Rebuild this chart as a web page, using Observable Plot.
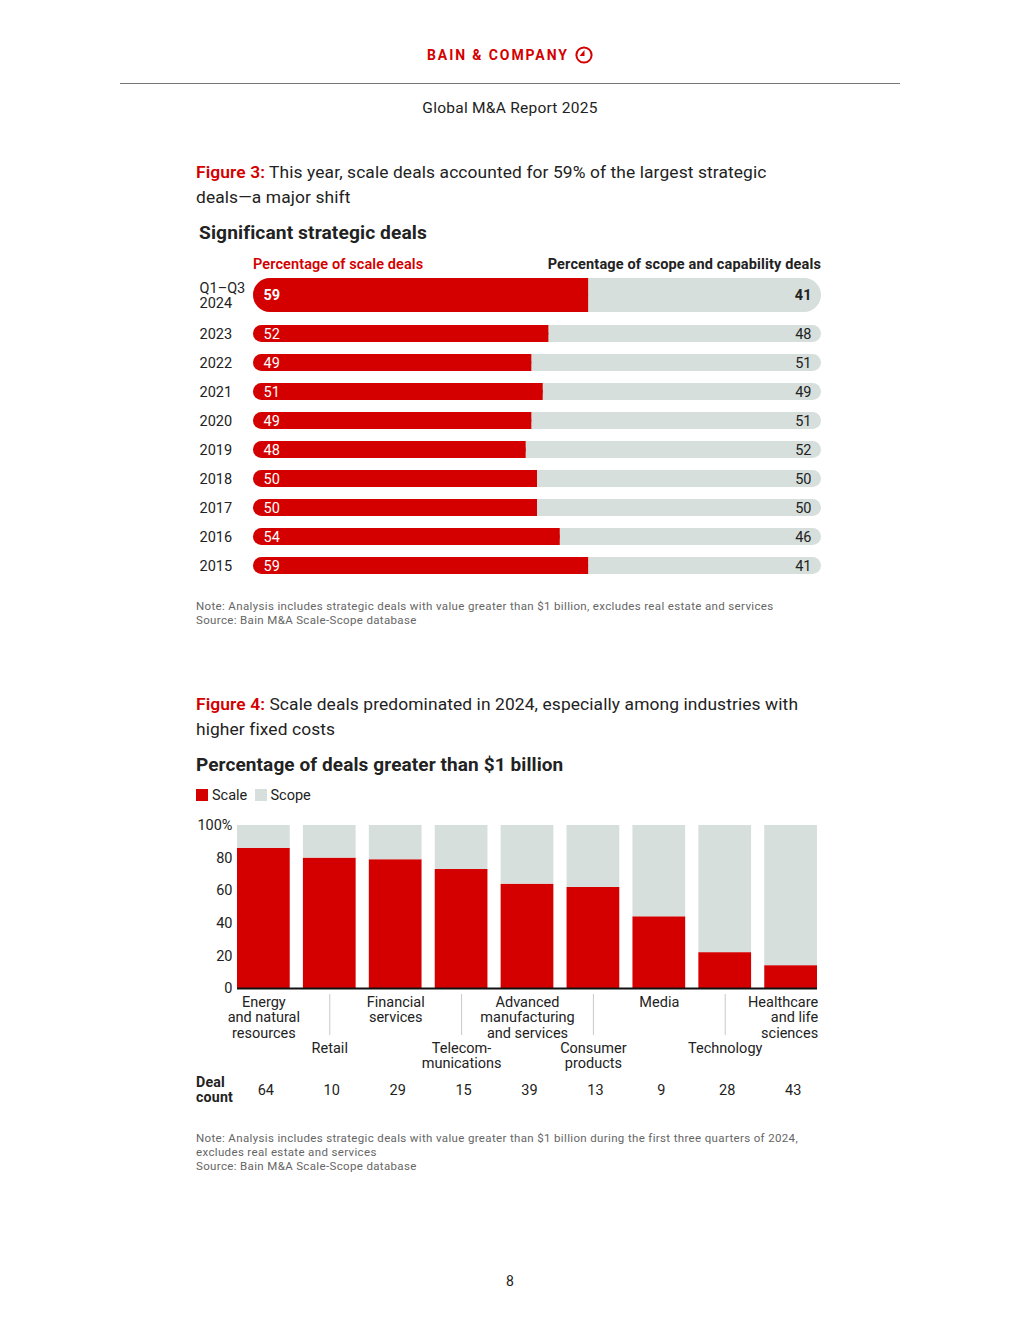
<!DOCTYPE html>
<html><head><meta charset="utf-8">
<script src="https://cdn.jsdelivr.net/npm/d3@7"></script>
<script src="https://cdn.jsdelivr.net/npm/@observablehq/plot@0.6"></script>
<style>
body{margin:0;background:#fff;font-family:Roboto,"Noto Sans",sans-serif;color:#222;}
#page{position:relative;width:1020px;height:1320px;overflow:hidden;}
.abs{position:absolute;white-space:nowrap;}
.red{color:#d40000;}
.note{font-size:11.5px;line-height:14px;color:#666;letter-spacing:0.35px;}
.title{font-size:17.4px;line-height:25px;letter-spacing:0.1px;}
.sub{font-size:19px;line-height:24px;font-weight:700;letter-spacing:0.1px;}
.sw{display:inline-block;width:12px;height:12px;vertical-align:-1px;margin-right:4px;}
</style></head><body><div id="page">
<div class="abs" style="left:427px;top:46px;font-size:14px;line-height:18px;font-weight:700;letter-spacing:1.9px;color:#d40000;">BAIN &amp; COMPANY</div>
<svg class="abs" style="left:575px;top:46px" width="18" height="18" viewBox="0 0 18 18"><circle cx="9" cy="9" r="7.6" fill="none" stroke="#d40000" stroke-width="2"/><path d="M9.5 4 L9.5 10 L4.5 10 Z" fill="#d40000"/></svg>
<div class="abs" style="left:120px;top:83px;width:780px;border-top:1.5px solid #777;"></div>
<div class="abs" style="left:0;width:1020px;text-align:center;top:98px;font-size:15.5px;line-height:20px;letter-spacing:0.25px;">Global M&amp;A Report 2025</div>

<div class="abs title" style="left:196px;top:159.5px;"><b class="red" style="font-weight:600">Figure 3:</b> This year, scale deals accounted for 59% of the largest strategic<br>deals—a major shift</div>
<div class="abs sub" style="left:199px;top:221px;font-size:19.2px;">Significant strategic deals</div>
<div class="abs red" style="left:253px;top:256px;font-size:14.5px;line-height:18px;font-weight:600;letter-spacing:0.1px;">Percentage of scale deals</div>
<div class="abs" style="right:199px;top:256px;font-size:14.5px;line-height:18px;font-weight:700;letter-spacing:0.15px;">Percentage of scope and capability deals</div>
<div id="c1" class="abs" style="left:0;top:276px;"></div>
<div id="c2" class="abs" style="left:0;top:318.5px;"></div>
<div class="abs note" style="left:196px;top:599px;">Note: Analysis includes strategic deals with value greater than $1 billion, excludes real estate and services<br>Source: Bain M&amp;A Scale-Scope database</div>

<div class="abs title" style="left:196px;top:691.5px;"><b class="red" style="font-weight:600">Figure 4:</b> Scale deals predominated in 2024, especially among industries with<br>higher fixed costs</div>
<div class="abs sub" style="left:196px;top:753px;">Percentage of deals greater than $1 billion</div>
<div class="abs" style="left:196px;top:787px;font-size:14.5px;line-height:18px;"><span class="sw" style="background:#d40000"></span>Scale&nbsp;&nbsp;<span class="sw" style="background:#d6dfdc"></span>Scope</div>
<div id="c3" class="abs" style="left:0;top:800px;"></div>
<div class="abs" style="left:196px;top:1074.5px;font-size:14.2px;line-height:15px;font-weight:700;letter-spacing:0.2px;">Deal</div>
<div class="abs" style="left:196px;top:1089.5px;font-size:14.2px;line-height:15px;font-weight:700;letter-spacing:0.2px;">count</div>
<div class="abs note" style="left:196px;top:1131px;">Note: Analysis includes strategic deals with value greater than $1 billion during the first three quarters of 2024,<br>excludes real estate and services<br>Source: Bain M&amp;A Scale-Scope database</div>
<div class="abs" style="left:0;width:1020px;text-align:center;top:1272px;font-size:14px;line-height:18px;">8</div>
</div>
<script>
// ---- Figure 3 data ----
const years = ["Q1–Q3 2024","2023","2022","2021","2020","2019","2018","2017","2016","2015"];
const scaleShare = [59,52,49,51,49,48,50,50,54,59];
const scopeShare = [41,48,51,49,51,52,50,50,46,41];
// ---- Figure 4 data ----
const industries = ["Energy and natural resources","Retail","Financial services","Telecommunications","Advanced manufacturing and services","Consumer products","Media","Technology","Healthcare and life sciences"];
const industryLabels = ["Energy\nand natural\nresources","Retail","Financial\nservices","Telecom-\nmunications","Advanced\nmanufacturing\nand services","Consumer\nproducts","Media","Technology","Healthcare\nand life\nsciences"];
const scalePct = [86,80,79,73,64,62,44,22,14];
const scopePct = [14,20,21,27,36,38,56,78,86];
const dealCount = [64,10,29,15,39,13,9,28,43];
const yTicks = [0,20,40,60,80,100];

const RED = "#d40000", GRAY = "#d6dfdc", INK = "#222";
const FONT = "Roboto, 'Noto Sans', sans-serif";

const rows = years.map((y,i)=>({year:y, scale:scaleShare[i], scope:scopeShare[i]}));
const topRow = rows.slice(0,1), restRows = rows.slice(1);

function rowMarks(data, opts){
  const {inset, r, bold} = opts;
  return [
    Plot.barX(data, {x1:0, x2:d=>d.scale+d.scope, y:"year", fill:GRAY, rx:r, insetTop:inset, insetBottom:inset}),
    Plot.barX(data, {x1:0, x2:"scale", y:"year", fill:RED, rx:r, insetTop:inset, insetBottom:inset}),
    Plot.barX(data, {x1:d=>d.scale/2, x2:"scale", y:"year", fill:RED, insetTop:inset, insetBottom:inset}),
    Plot.text(data, {x:0, y:"year", text:d=>String(d.scale), dx:10, textAnchor:"start", fill:"white", fontWeight:bold?"bold":"normal", fontSize:14.5}),
    Plot.text(data, {x:100, y:"year", text:d=>String(d.scope), dx:-10, textAnchor:"end", fill:INK, fontWeight:bold?"bold":"normal", fontSize:14.5}),
    Plot.text(data, {frameAnchor:"left", y:"year", text:d=>d.year.replace(" ","\n"), dx:-54, textAnchor:"start", lineHeight:1.05, fill:INK, fontSize:14.5})
  ];
}

const c1 = Plot.plot({
  width:1020, height:38, marginLeft:253, marginRight:199, marginTop:0, marginBottom:0,
  x:{domain:[0,100], axis:null},
  y:{domain:topRow.map(d=>d.year), axis:null, padding:0},
  style:{fontFamily:FONT, fontSize:"14px", overflow:"visible", background:"transparent"},
  marks: rowMarks(topRow, {inset:2, r:17, bold:true})
});
document.getElementById("c1").appendChild(c1);

const c2 = Plot.plot({
  width:1020, height:261, marginLeft:253, marginRight:199, marginTop:0, marginBottom:0,
  x:{domain:[0,100], axis:null},
  y:{domain:restRows.map(d=>d.year), axis:null, padding:0},
  style:{fontFamily:FONT, fontSize:"14px", overflow:"visible", background:"transparent"},
  marks: rowMarks(restRows, {inset:6, r:8.5, bold:false})
});
document.getElementById("c2").appendChild(c2);

// ---- Figure 4 ----
const long = [];
industries.forEach((c,i)=>{ long.push({industry:c, type:"Scale", value:scalePct[i]}); });
industries.forEach((c,i)=>{ long.push({industry:c, type:"Scope", value:scopePct[i]}); });
const info = industries.map((c,i)=>({industry:c, label:industryLabels[i], count:dealCount[i], i}));
const upper = info.filter(d=>d.i%2===0 && d.i<8);
const last = info.filter(d=>d.i===8);
const lower = info.filter(d=>d.i%2===1);

const c3 = Plot.plot({
  width:1020, height:310, marginLeft:237, marginRight:203, marginTop:25, marginBottom:122,
  x:{domain:industries, paddingInner:0.2, paddingOuter:0, round:false, label:null},
  y:{domain:[0,100], label:null},
  color:{domain:["Scale","Scope"], range:[RED, GRAY]},
  style:{fontFamily:FONT, fontSize:"14px", color:INK, overflow:"visible", background:"transparent"},
  marks:[
    Plot.barY(long, Plot.stackY({order:["Scale","Scope"]}, {x:"industry", y:"value", fill:"type", z:"type"})),
    Plot.ruleY([0], {stroke:"#111", strokeWidth:2}),
    Plot.axisY(yTicks, {tickSize:0, tickPadding:5, tickFormat:d=>d===100?"100%":String(d), label:null, fill:INK, fontSize:14.5}),
    Plot.axisX(lower.map(d=>d.industry), {tickSize:41, dy:6, fill:"none", stroke:"#c9c9c9", label:null}),
    Plot.text(upper, {x:"industry", y:0, text:"label", lineAnchor:"top", dy:7, lineHeight:1.08, fill:INK, fontSize:14.5}),
    Plot.text(last, {x:"industry", y:0, text:"label", lineAnchor:"top", dy:7, dx:27, textAnchor:"end", lineHeight:1.08, fill:INK, fontSize:14.5}),
    Plot.text(lower, {x:"industry", y:0, text:"label", lineAnchor:"top", dy:53, lineHeight:1.08, fill:INK, fontSize:14.5}),
    Plot.text(info, {x:"industry", y:0, text:d=>String(d.count), dy:102, dx:2, lineAnchor:"middle", fill:INK, fontSize:14.5})
  ]
});
document.getElementById("c3").appendChild(c3);
</script>
</body></html>
